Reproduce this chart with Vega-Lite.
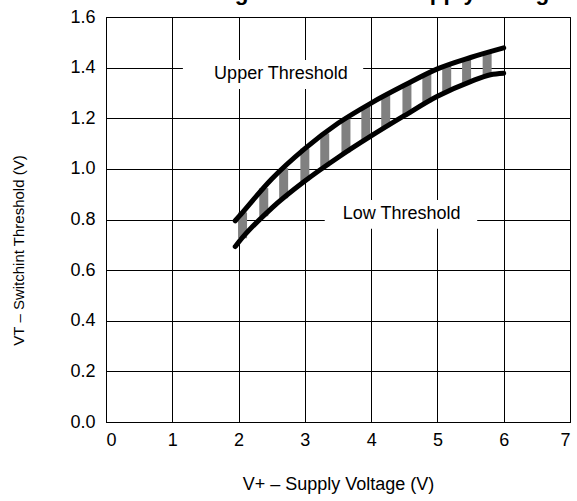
{
  "$schema": "https://vega.github.io/schema/vega-lite/v6.json",
  "width": 464,
  "height": 405,
  "autosize": {"type": "none"},
  "padding": {"left": 106, "top": 17, "right": 7, "bottom": 79},
  "background": "white",
  "title": {
    "text": "Switching Threshold vs Supply Voltage",
    "font": "Liberation Sans",
    "fontSize": 22.5,
    "fontWeight": "bold",
    "color": "black",
    "baseline": "alphabetic",
    "frame": "group",
    "offset": 0,
    "anchor": "middle",
    "dx": 14,
    "dy": 14
  },
  "config": {
    "font": "Liberation Sans",
    "view": {"stroke": "black", "strokeWidth": 1},
    "axis": {
      "grid": true,
      "gridColor": "black",
      "gridOpacity": 1,
      "gridWidth": 1,
      "ticks": false,
      "domainColor": "black",
      "labelFont": "Liberation Sans",
      "labelFontSize": 18,
      "labelColor": "black",
      "titleFont": "Liberation Sans",
      "titleFontSize": 18,
      "titleFontWeight": "normal",
      "titleColor": "black"
    }
  },
  "datasets": {
    "curves": [
      {"v": 1.95, "t": 0.795, "series": "Upper"},
      {"v": 2.0, "t": 0.81, "series": "Upper"},
      {"v": 2.5, "t": 0.96, "series": "Upper"},
      {"v": 3.0, "t": 1.08, "series": "Upper"},
      {"v": 3.5, "t": 1.18, "series": "Upper"},
      {"v": 4.0, "t": 1.26, "series": "Upper"},
      {"v": 4.5, "t": 1.33, "series": "Upper"},
      {"v": 5.0, "t": 1.395, "series": "Upper"},
      {"v": 5.5, "t": 1.44, "series": "Upper"},
      {"v": 6.0, "t": 1.478, "series": "Upper"},
      {"v": 1.95, "t": 0.693, "series": "Low"},
      {"v": 2.0, "t": 0.71, "series": "Low"},
      {"v": 2.5, "t": 0.845, "series": "Low"},
      {"v": 3.0, "t": 0.952, "series": "Low"},
      {"v": 3.5, "t": 1.045, "series": "Low"},
      {"v": 4.0, "t": 1.13, "series": "Low"},
      {"v": 4.5, "t": 1.21, "series": "Low"},
      {"v": 5.0, "t": 1.287, "series": "Low"},
      {"v": 5.5, "t": 1.345, "series": "Low"},
      {"v": 5.8, "t": 1.372, "series": "Low"},
      {"v": 6.0, "t": 1.378, "series": "Low"}
    ],
    "stripes": [
      {"v": 2.06, "lo": 0.726, "hi": 0.828},
      {"v": 2.38, "lo": 0.813, "hi": 0.924},
      {"v": 2.68, "lo": 0.884, "hi": 1.003},
      {"v": 3.0, "lo": 0.952, "hi": 1.08},
      {"v": 3.3, "lo": 1.008, "hi": 1.14},
      {"v": 3.62, "lo": 1.065, "hi": 1.199},
      {"v": 3.92, "lo": 1.116, "hi": 1.247},
      {"v": 4.22, "lo": 1.165, "hi": 1.291},
      {"v": 4.54, "lo": 1.216, "hi": 1.335},
      {"v": 4.84, "lo": 1.262, "hi": 1.374},
      {"v": 5.14, "lo": 1.303, "hi": 1.408},
      {"v": 5.44, "lo": 1.338, "hi": 1.435},
      {"v": 5.75, "lo": 1.368, "hi": 1.459}
    ],
    "labels": [
      {"label": "Upper Threshold", "v": 2.64, "t": 1.375, "x1": 1.16, "x2": 3.88, "y1": 1.316, "y2": 1.43},
      {"label": "Low Threshold", "v": 4.46, "t": 0.82, "x1": 3.3, "x2": 5.6, "y1": 0.763, "y2": 0.877}
    ]
  },
  "layer": [
    {
      "data": {"name": "labels"},
      "mark": {"type": "rect", "fill": "white", "stroke": null},
      "encoding": {
        "x": {"field": "x1", "type": "quantitative", "scale": {"domain": [0, 7], "nice": false},
          "axis": {"values": [0, 1, 2, 3, 4, 5, 6, 7], "format": "d", "title": "V+ – Supply Voltage (V)", "labelPadding": 9, "titleY": 62, "titleBaseline": "middle"}},
        "x2": {"field": "x2"},
        "y": {"field": "y1", "type": "quantitative", "scale": {"domain": [0, 1.6], "nice": false},
          "axis": {"values": [0, 0.2, 0.4, 0.6, 0.8, 1.0, 1.2, 1.4, 1.6], "format": ".1f", "title": "VT – Switchint Threshold (V)", "titleFontSize": 15, "labelPadding": 11, "titleX": -88, "titleY": 233, "titleBaseline": "middle", "titleAlign": "center"}},
        "y2": {"field": "y2"}
      }
    },
    {
      "data": {"name": "stripes"},
      "mark": {"type": "rule", "color": "#808080", "strokeWidth": 9, "strokeCap": "butt"},
      "encoding": {
        "x": {"field": "v", "type": "quantitative"},
        "y": {"field": "lo", "type": "quantitative"},
        "y2": {"field": "hi"}
      }
    },
    {
      "data": {"name": "curves"},
      "mark": {"type": "line", "color": "black", "strokeWidth": 5, "strokeCap": "round", "interpolate": "monotone"},
      "encoding": {
        "x": {"field": "v", "type": "quantitative"},
        "y": {"field": "t", "type": "quantitative"},
        "detail": {"field": "series"}
      }
    },
    {
      "data": {"name": "labels"},
      "mark": {"type": "text", "fontSize": 18, "color": "black", "align": "center", "baseline": "middle"},
      "encoding": {
        "x": {"field": "v", "type": "quantitative"},
        "y": {"field": "t", "type": "quantitative"},
        "text": {"field": "label"}
      }
    }
  ]
}
